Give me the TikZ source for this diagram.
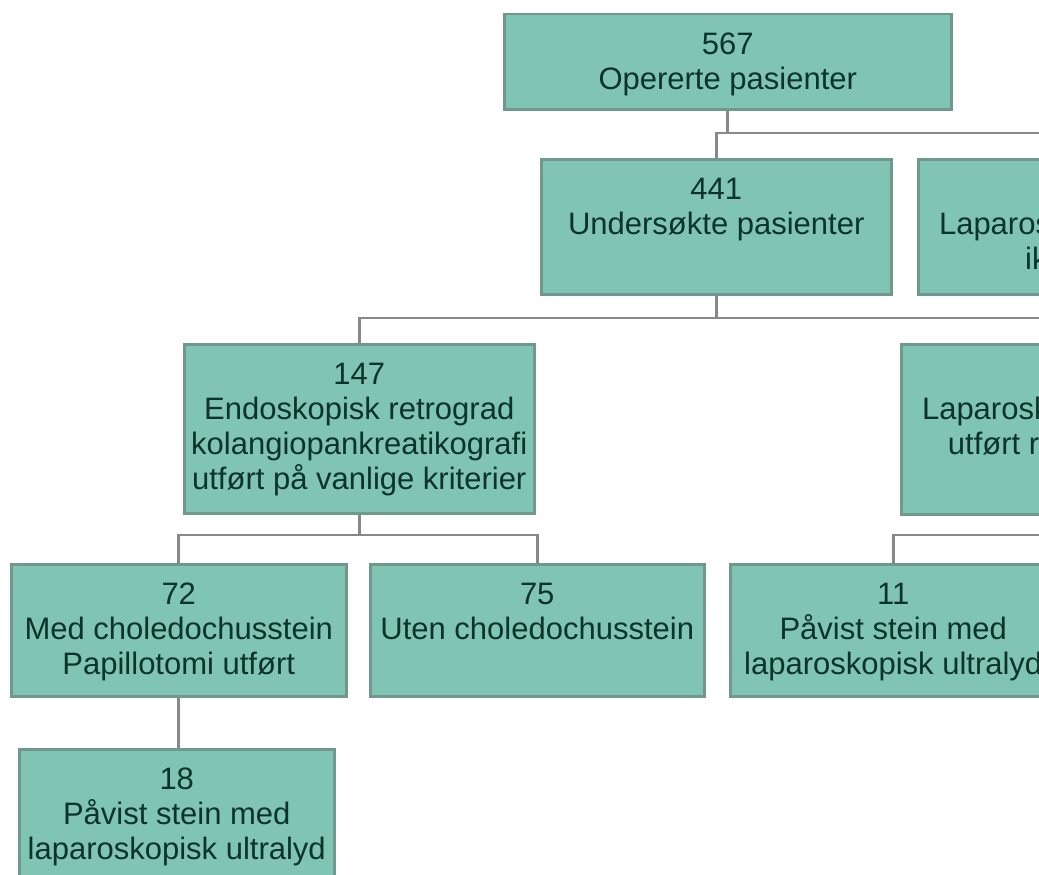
\documentclass[tikz,border=0pt]{standalone}
\usepackage{fontspec}
\setmainfont{Liberation Sans}
\definecolor{boxfill}{RGB}{128,196,180}
\definecolor{boxline}{RGB}{112,152,140}
\definecolor{txt}{RGB}{12,52,42}
\definecolor{conn}{RGB}{136,136,136}
\newcommand{\boxtext}[3]{\parbox[c][#2pt][t]{#1pt}{\centering\rule{0pt}{40pt}#3}}
\tikzset{
  flowbox/.style={draw=boxline, line width=2.5pt, fill=boxfill, inner sep=0pt,
    anchor=north west, text=txt, font=\fontsize{31}{35}\selectfont},
  connline/.style={draw=conn, line width=2.6pt}
}
\begin{document}
\begin{tikzpicture}[x=1pt,y=-1pt]
\useasboundingbox (0,0) rectangle (1039,875);
\clip (0,0) rectangle (1039,875);
\fill[white] (0,0) rectangle (1039,875);
% bus coordinates
\coordinate (bus1) at (714,133);
\coordinate (bus2) at (714,318);
\coordinate (bus3) at (357,535);
% boxes
\node[flowbox] (n567) at (503,13) {\boxtext{447}{95}{567\\Opererte pasienter}};
\node[flowbox] (n441) at (540,158) {\boxtext{350}{135}{441\\Undersøkte pasienter}};
\node[flowbox] (r2) at (917,158) {\boxtext{350}{135}{\strut\\Laparoskopisk ultralyd\\ikke utført}};
\node[flowbox] (n147) at (183,343) {\boxtext{350}{169}{147\\Endoskopisk retrograd\\kolangiopankreatikografi\\utført på vanlige kriterier}};
\node[flowbox] (r3) at (900,343) {\boxtext{350}{170}{\strut\\Laparoskopisk ultralyd\\utført rutinemessig}};
\node[flowbox] (n72) at (10,563) {\boxtext{335}{132}{72\\Med choledochusstein\\Papillotomi utført}};
\node[flowbox] (n75) at (369,563) {\boxtext{334}{132}{75\\Uten choledochusstein}};
\node[flowbox] (n11) at (729,563) {\boxtext{326}{132}{11\\Påvist stein med\\laparoskopisk ultralyd}};
\node[flowbox] (n18) at (18,748) {\boxtext{315}{140}{18\\Påvist stein med\\laparoskopisk ultralyd}};
% connectors
\draw[connline] (n567.south) -- (n567.south |- bus1);
\draw[connline] (n441.north) -- (n441.north |- bus1) -| (r2.north);
\draw[connline] (n441.south) -- (n441.south |- bus2);
\draw[connline] (n147.north) -- (n147.north |- bus2) -| (r3.north);
\draw[connline] (n147.south) -- (n147.south |- bus3);
\draw[connline] (n72.north) -- (n72.north |- bus3) -| (n75.north);
\draw[connline] (r3.south) -- (r3.south |- bus3);
\draw[connline] (n11.north) -- (n11.north |- bus3) -- (r3.south |- bus3);
\draw[connline] (n72.south) -- (n72.south |- n18.north);
\end{tikzpicture}
\end{document}
